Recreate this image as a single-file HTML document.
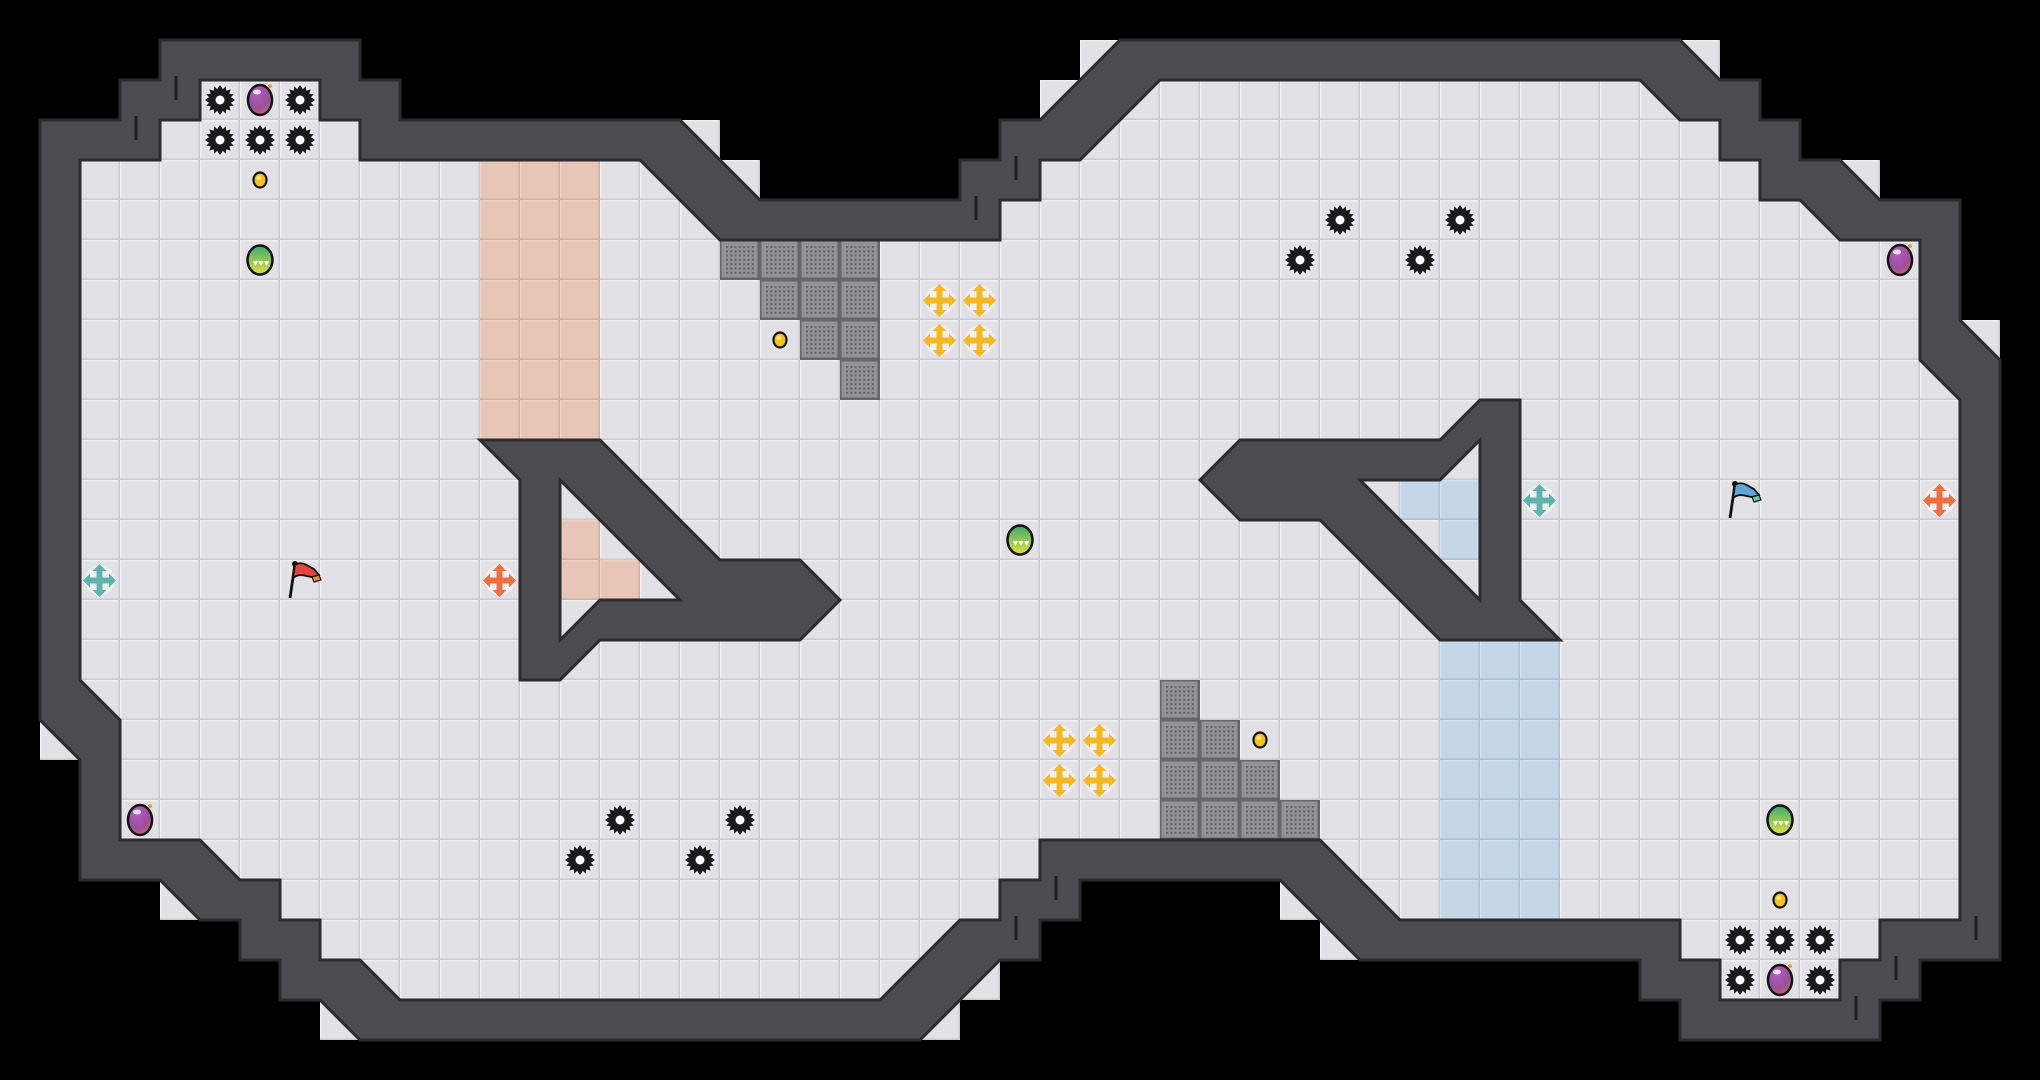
<!DOCTYPE html>
<html><head><meta charset="utf-8"><style>
html,body{margin:0;padding:0;background:#000;}
svg{display:block;}
</style></head><body>
<svg width="2040" height="1080" viewBox="0 0 2040 1080" xmlns="http://www.w3.org/2000/svg">
<defs>
<pattern id="tile" width="40" height="40" patternUnits="userSpaceOnUse">
<rect width="40" height="40" fill="#c9c9cf"/>
<rect x="0" y="0" width="38.5" height="38.5" fill="#f0f0f3"/>
<rect x="1.5" y="1.5" width="37" height="37" fill="#e2e2e6"/>
</pattern>
<pattern id="peach" width="40" height="40" patternUnits="userSpaceOnUse">
<rect width="40" height="40" fill="#d6ae9e"/>
<rect x="0" y="0" width="38.5" height="38.5" fill="#efd3c6"/>
<rect x="1.5" y="1.5" width="37" height="37" fill="#e7c6b8"/>
</pattern>
<pattern id="blue" width="40" height="40" patternUnits="userSpaceOnUse">
<rect width="40" height="40" fill="#a9c2d6"/>
<rect x="0" y="0" width="38.5" height="38.5" fill="#d2e2ee"/>
<rect x="1.5" y="1.5" width="37" height="37" fill="#c3d7e6"/>
</pattern>
<pattern id="mesh" width="40" height="40" patternUnits="userSpaceOnUse">
<rect width="40" height="40" fill="#66666a"/>
<rect x="1.5" y="1.5" width="36" height="36" fill="#939397"/>
<rect x="5" y="5" width="30" height="30" fill="url(#dots)"/>
</pattern>
<pattern id="dots" width="4.3" height="4.3" patternUnits="userSpaceOnUse" x="5" y="5">
<rect x="1" y="1" width="2" height="2" fill="#5e5e62"/>
</pattern>
<radialGradient id="gbomb" cx="40%" cy="30%" r="80%">
<stop offset="0" stop-color="#b05fc0"/><stop offset="0.6" stop-color="#9a4f9a"/><stop offset="1" stop-color="#d0705a"/>
</radialGradient>
<linearGradient id="gorb" x1="0" y1="0" x2="0" y2="1">
<stop offset="0" stop-color="#3fa870"/><stop offset="0.6" stop-color="#9ccc50"/><stop offset="1" stop-color="#e8e040"/>
</linearGradient>
<g id="gear">
<circle r="15" fill="#fff" opacity="0.5"/>
<polygon fill="#1a1a1c" points="0,-15 2.9,-10.9 5.8,-13.8 6.3,-9.4 10.6,-10.6 9.4,-6.3 13.8,-5.8 10.9,-2.9 15,0 10.9,2.9 13.8,5.8 9.4,6.3 10.6,10.6 6.3,9.4 5.8,13.8 2.9,10.9 0,15 -2.9,10.9 -5.8,13.8 -6.3,9.4 -10.6,10.6 -9.4,6.3 -13.8,5.8 -10.9,2.9 -15,0 -10.9,-2.9 -13.8,-5.8 -9.4,-6.3 -10.6,-10.6 -6.3,-9.4 -5.8,-13.8 -2.9,-10.9"/>
<circle r="4.5" fill="#fff"/>
</g>
<g id="bomb">
<ellipse rx="12" ry="15" fill="url(#gbomb)" stroke="#111" stroke-width="2.5"/>
<ellipse cx="-3" cy="-8" rx="4" ry="2.5" fill="#fff" opacity="0.8"/>
<circle cx="10" cy="-14" r="2" fill="#f39a3a"/>
</g>
<g id="orb">
<ellipse rx="12.5" ry="14.5" fill="url(#gorb)" stroke="#111" stroke-width="2.5"/>
<path d="M-7,1 l2.5,5 l2.5,-5 z M-1.5,1 l2.5,5 l2.5,-5 z M4,1 l2.5,5 l2.5,-5 z" fill="#fff"/>
</g>
<g id="coin">
<ellipse rx="6.5" ry="7.5" fill="#f7c21b" stroke="#111" stroke-width="2.2"/>
<ellipse cx="-1" cy="-2" rx="2.5" ry="2" fill="#ffe57a"/>
</g>
<g id="cross">
<circle r="15" fill="#f4f4f6" opacity="0.8"/>
<path d="M-2.5,-9 h5 v6.5 h6.5 v-4 l7,7 l-7,7 v-4 h-6.5 v6.5 h4 l-7,7 l-7,-7 h4 v-6.5 h-6.5 v4 l-7,-7 l7,-7 v4 h6.5 v-6.5 h-4 l7,-7 l7,7 z"/>
</g>
<g id="flag">
<line x1="-10" y1="20" x2="-5" y2="-14" stroke="#111" stroke-width="2.8"/>
<circle cx="-5" cy="-14" r="3" fill="#111"/>
</g>
</defs>
<rect width="2040" height="1080" fill="#000"/>
<g fill="url(#tile)">
<polygon points="680,120 720,120 720,160 760,160 760,200"/>
<polygon points="1040,120 1040,80 1080,80 1080,40 1120,40"/>
<polygon points="1680,40 1720,40 1720,80"/>
<polygon points="1840,160 1880,160 1880,200"/>
<polygon points="1960,320 2000,320 2000,360"/>
<polygon points="1280,880 1280,920 1320,920 1320,960 1360,960"/>
<polygon points="1000,960 1000,1000 960,1000 960,1040 920,1040"/>
<polygon points="320,1000 320,1040 360,1040"/>
<polygon points="160,880 160,920 200,920"/>
<polygon points="40,720 40,760 80,760"/>
</g>
<polygon fill="url(#tile)" points="40,120 120,120 120,80 160,80 160,40 360,40 360,80 400,80 400,120 680,120 760,200 960,200 960,160 1000,160 1000,120 1040,120 1120,40 1680,40 1720,80 1760,80 1760,120 1800,120 1800,160 1840,160 1880,200 1960,200 1960,320 2000,360 2000,960 1920,960 1920,1000 1880,1000 1880,1040 1680,1040 1680,1000 1640,1000 1640,960 1360,960 1280,880 1080,880 1080,920 1040,920 1040,960 1000,960 920,1040 360,1040 320,1000 280,1000 280,960 240,960 240,920 200,920 160,880 80,880 80,760 40,720"/>
<rect x="480" y="160" width="120" height="280" fill="url(#peach)"/>
<rect x="560" y="520" width="40" height="80" fill="url(#peach)"/>
<rect x="600" y="560" width="40" height="40" fill="url(#peach)"/>
<rect x="1440" y="640" width="120" height="280" fill="url(#blue)"/>
<rect x="1400" y="480" width="80" height="40" fill="url(#blue)"/>
<rect x="1440" y="520" width="40" height="40" fill="url(#blue)"/>
<g fill="url(#mesh)">
<rect x="720" y="240" width="160" height="40"/>
<rect x="760" y="280" width="120" height="40"/>
<rect x="800" y="320" width="80" height="40"/>
<rect x="840" y="360" width="40" height="40"/>
<rect x="1160" y="680" width="40" height="40"/>
<rect x="1160" y="720" width="80" height="40"/>
<rect x="1160" y="760" width="120" height="40"/>
<rect x="1160" y="800" width="160" height="40"/>
</g>
<g fill="#4b4b50" stroke="#2c2c30" stroke-width="3" stroke-linejoin="miter" fill-rule="evenodd">
<path d="M40,120 L120,120 120,80 160,80 160,40 360,40 360,80 400,80 400,120 680,120 760,200 960,200 960,160 1000,160 1000,120 1040,120 1120,40 1680,40 1720,80 1760,80 1760,120 1800,120 1800,160 1840,160 1880,200 1960,200 1960,320 2000,360 2000,960 1920,960 1920,1000 1880,1000 1880,1040 1680,1040 1680,1000 1640,1000 1640,960 1360,960 1280,880 1080,880 1080,920 1040,920 1040,960 1000,960 920,1040 360,1040 320,1000 280,1000 280,960 240,960 240,920 200,920 160,880 80,880 80,760 40,720 Z
M80,160 L160,160 160,120 200,120 200,80 320,80 320,120 360,120 360,160 640,160 720,240 1000,240 1000,200 1040,200 1040,160 1080,160 1160,80 1640,80 1680,120 1720,120 1720,160 1760,160 1760,200 1800,200 1840,240 1920,240 1920,360 1960,400 1960,920 1880,920 1880,960 1840,960 1840,1000 1720,1000 1720,960 1680,960 1680,920 1400,920 1320,840 1040,840 1040,880 1000,880 1000,920 960,920 880,1000 400,1000 360,960 320,960 320,920 280,920 280,880 240,880 200,840 120,840 120,720 80,680 Z"/>
<path d="M480,440 L600,440 720,560 800,560 840,600 800,640 600,640 560,680 520,680 520,480 Z M560,480 L680,600 600,600 560,640 Z"/>
<path d="M1480,400 L1520,400 1520,600 1560,640 1440,640 1320,520 1240,520 1200,480 1240,440 1440,440 Z M1480,440 L1480,600 1360,480 1440,480 Z"/>
</g>
<g stroke="#1e1e22" stroke-width="3">
<line x1="176" y1="76" x2="176" y2="100"/><line x1="136" y1="116" x2="136" y2="140"/>
<line x1="1016" y1="156" x2="1016" y2="180"/><line x1="976" y1="196" x2="976" y2="220"/>
<line x1="1056" y1="876" x2="1056" y2="900"/><line x1="1016" y1="916" x2="1016" y2="940"/>
<line x1="1976" y1="916" x2="1976" y2="940"/><line x1="1896" y1="956" x2="1896" y2="980"/><line x1="1856" y1="996" x2="1856" y2="1020"/>
</g>
<g>
<use href="#gear" x="220" y="100"/><use href="#gear" x="300" y="100"/>
<use href="#gear" x="220" y="140"/><use href="#gear" x="260" y="140"/><use href="#gear" x="300" y="140"/>
<use href="#gear" x="1340" y="220"/><use href="#gear" x="1460" y="220"/>
<use href="#gear" x="1300" y="260"/><use href="#gear" x="1420" y="260"/>
<use href="#gear" x="620" y="820"/><use href="#gear" x="740" y="820"/>
<use href="#gear" x="580" y="860"/><use href="#gear" x="700" y="860"/>
<use href="#gear" x="1740" y="940"/><use href="#gear" x="1780" y="940"/><use href="#gear" x="1820" y="940"/>
<use href="#gear" x="1740" y="980"/><use href="#gear" x="1820" y="980"/>
</g>
<use href="#bomb" x="260" y="100"/>
<use href="#bomb" x="1900" y="260"/>
<use href="#bomb" x="140" y="820"/>
<use href="#bomb" x="1780" y="980"/>
<use href="#orb" x="260" y="260"/>
<use href="#orb" x="1020" y="540"/>
<use href="#orb" x="1780" y="820"/>
<use href="#coin" x="260" y="180"/>
<use href="#coin" x="780" y="340"/>
<use href="#coin" x="1260" y="740"/>
<use href="#coin" x="1780" y="900"/>
<g fill="#f5b820">
<use href="#cross" x="940" y="300"/><use href="#cross" x="980" y="300"/>
<use href="#cross" x="940" y="340"/><use href="#cross" x="980" y="340"/>
<use href="#cross" x="1060" y="740"/><use href="#cross" x="1100" y="740"/>
<use href="#cross" x="1060" y="780"/><use href="#cross" x="1100" y="780"/>
</g>
<g fill="#5fb3ae">
<use href="#cross" x="100" y="580"/><use href="#cross" x="1540" y="500"/>
</g>
<g fill="#f26d3d">
<use href="#cross" x="500" y="580"/><use href="#cross" x="1940" y="500"/>
</g>
<g transform="translate(300,578)">
<use href="#flag"/>
<path d="M-5,-13 C2,-18 9,-11 14,-9 L19,-3 L12,-1 C7,-1 0,-6 -7,0 Z" fill="#e8423f" stroke="#111" stroke-width="1.8"/>
<path d="M12,-1 L19,-3 L21,2 L14,4 Z" fill="#f08a30" stroke="#111" stroke-width="1.2"/>
</g>
<g transform="translate(1740,498)">
<use href="#flag"/>
<path d="M-5,-13 C2,-18 9,-11 14,-9 L19,-3 L12,-1 C7,-1 0,-6 -7,0 Z" fill="#5aa7d8" stroke="#111" stroke-width="1.8"/>
<path d="M12,-1 L19,-3 L21,2 L14,4 Z" fill="#6cc9a0" stroke="#111" stroke-width="1.2"/>
</g>
</svg>
</body></html>
